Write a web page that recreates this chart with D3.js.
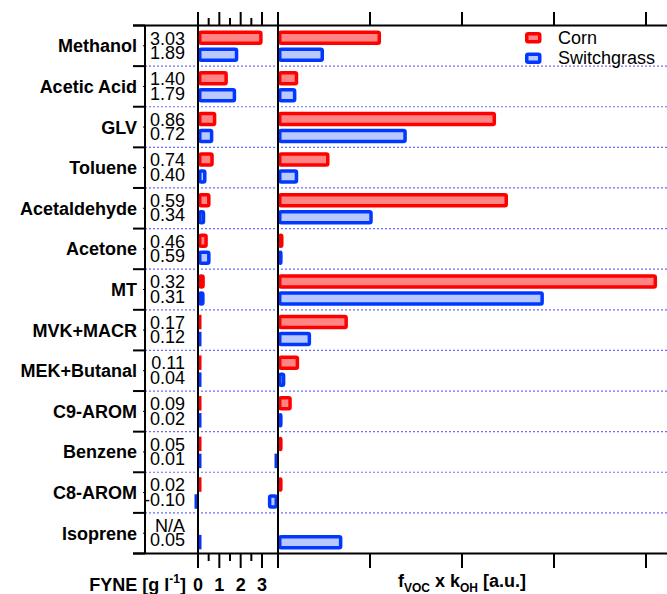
<!DOCTYPE html>
<html>
<head>
<meta charset="utf-8">
<script src="https://cdn.jsdelivr.net/npm/d3@7"></script>
<style>
  html, body { margin: 0; padding: 0; background: #fff; }
  svg { display: block; font-family: "Liberation Sans", Arial, sans-serif; }
</style>
</head>
<body>
<svg id="chart" width="667" height="594"></svg>
<script>
// VOC species, top to bottom
const categories = ["Methanol", "Acetic Acid", "GLV", "Toluene", "Acetaldehyde", "Acetone",
  "MT", "MVK+MACR", "MEK+Butanal", "C9-AROM", "Benzene", "C8-AROM", "Isoprene"];

// Fuel-yield normalised emissions [g l-1]
const fyneCorn   = [3.03, 1.40, 0.86, 0.74, 0.59, 0.46, 0.32, 0.17, 0.11, 0.09, 0.05, 0.02, null];
const fyneSwitch = [1.89, 1.79, 0.72, 0.40, 0.34, 0.59, 0.31, 0.12, 0.04, 0.02, 0.01, -0.10, 0.05];

// OH reactivity contribution, f_VOC x k_OH [a.u.]
const reactCorn   = [1.12, 0.22, 2.37, 0.56, 2.50, 0.06, 4.12, 0.76, 0.23, 0.15, 0.05, 0.05, null];
const reactSwitch = [0.50, 0.20, 1.40, 0.22, 1.03, 0.05, 2.89, 0.36, 0.08, 0.05, -0.03, -0.11, 0.70];

const fyneTicks = [0, 1, 2, 3];
const fyneMinorTicks = [0.5, 1.5, 2.5];
const reactTicks = [0, 1, 2, 3, 4];

const seriesNames = ["Corn", "Switchgrass"];
const strokeColors = ["#ff0000", "#0038ff"];
const fillColors = ["#ff8585", "#b9c8ff"];

const svg = d3.select("#chart");

const plotTop = 25.5, plotBottom = 553.5;
const y = d3.scaleBand().domain(categories).range([plotTop, plotBottom]);
const xF = d3.scaleLinear().domain([0, 3]).range([198, 262]);
const xR = d3.scaleLinear().domain([0, 4]).range([278, 646]);

const SW = 3.5;       // bar outline width
const barH = 14.5;
const barOffset = [5, 22];

// bar whose outer edge spans x(0)..x(v), outline drawn inside
function drawBar(g, x, v, yTop, i) {
  if (v === null || v === undefined) return;
  const a = x(0), b = x(v);
  let lo = Math.min(a, b), hi = Math.max(a, b);
  if (hi - lo < SW + 0.8) {
    if (v >= 0) hi = lo + SW; else lo = hi - SW;
    g.append("rect").attr("x", lo).attr("y", yTop).attr("width", hi - lo).attr("height", barH)
      .attr("fill", strokeColors[i]);
  } else {
    g.append("rect")
      .attr("x", lo + SW / 2).attr("y", yTop + SW / 2)
      .attr("width", hi - lo - SW).attr("height", barH - SW)
      .attr("rx", 1.5)
      .attr("fill", fillColors[i]).attr("stroke", strokeColors[i])
      .attr("stroke-width", SW).attr("stroke-linejoin", "round");
  }
}

// dotted separators between species
const seps = categories.slice(1).map(c => y(c));
svg.append("g").selectAll("line").data(seps).join("line")
  .attr("x1", 145).attr("x2", 667).attr("y1", d => d).attr("y2", d => d)
  .attr("stroke", "#6a6aff").attr("stroke-width", 1.2).attr("stroke-dasharray", "2,2");

// bars
const bars = svg.append("g");
categories.forEach((c, k) => {
  const yb = y(c);
  drawBar(bars, xF, fyneCorn[k], yb + barOffset[0], 0);
  drawBar(bars, xF, fyneSwitch[k], yb + barOffset[1], 1);
  drawBar(bars, xR, reactCorn[k], yb + barOffset[0], 0);
  drawBar(bars, xR, reactSwitch[k], yb + barOffset[1], 1);
});

// species labels
svg.append("g").selectAll("text").data(categories).join("text")
  .attr("x", 137).attr("y", d => y(d) + y.bandwidth() / 2 + 6.5)
  .attr("text-anchor", "end").attr("font-weight", "bold").attr("font-size", 18)
  .text(d => d);

// FYNE value labels
const fmt = v => (v === null ? "N/A" : v.toFixed(2));
const vals = svg.append("g").attr("font-size", 18).attr("text-anchor", "end");
categories.forEach((c, k) => {
  vals.append("text").attr("x", 185).attr("y", y(c) + 19).text(fmt(fyneCorn[k]));
  vals.append("text").attr("x", 185).attr("y", y(c) + 33.5).text(fmt(fyneSwitch[k]));
});

// frame and axes
const frame = svg.append("g").attr("stroke", "#000").attr("stroke-width", 2).attr("fill", "none");
frame.append("line").attr("x1", 133).attr("x2", 667).attr("y1", plotTop).attr("y2", plotTop);
frame.append("line").attr("x1", 133).attr("x2", 667).attr("y1", plotBottom).attr("y2", plotBottom);
frame.append("line").attr("x1", 145).attr("x2", 145).attr("y1", plotTop).attr("y2", plotBottom);
// left category ticks
frame.selectAll(".lt").data([plotTop, ...seps, plotBottom]).join("line")
  .attr("x1", 133).attr("x2", 145).attr("y1", d => d).attr("y2", d => d);
frame.selectAll(".mt").data(categories).join("line")
  .attr("x1", 143).attr("x2", 145)
  .attr("y1", d => y(d) + y.bandwidth() / 2).attr("y2", d => y(d) + y.bandwidth() / 2)
  .attr("stroke-width", 1);

// FYNE axis ticks (top and bottom)
fyneTicks.forEach(t => {
  frame.append("line").attr("x1", xF(t)).attr("x2", xF(t)).attr("y1", 12).attr("y2", plotTop);
  frame.append("line").attr("x1", xF(t)).attr("x2", xF(t)).attr("y1", plotBottom).attr("y2", 568);
});
fyneMinorTicks.forEach(t => {
  frame.append("line").attr("x1", xF(t)).attr("x2", xF(t)).attr("y1", 18).attr("y2", plotTop);
  frame.append("line").attr("x1", xF(t)).attr("x2", xF(t)).attr("y1", plotBottom).attr("y2", 561);
});
frame.append("line").attr("x1", xF(0)).attr("x2", xF(0)).attr("y1", 12).attr("y2", 568);

// reactivity axis ticks
reactTicks.forEach(t => {
  frame.append("line").attr("x1", xR(t)).attr("x2", xR(t)).attr("y1", 12).attr("y2", plotTop);
  frame.append("line").attr("x1", xR(t)).attr("x2", xR(t)).attr("y1", plotBottom).attr("y2", 568);
});
frame.append("line").attr("x1", xR(0)).attr("x2", xR(0)).attr("y1", 12).attr("y2", 568);

// FYNE tick labels
svg.append("g").selectAll("text").data(fyneTicks).join("text")
  .attr("x", d => xF(d)).attr("y", 591).attr("text-anchor", "middle")
  .attr("font-weight", "bold").attr("font-size", 18).text(d => d);

// axis titles
const t1 = svg.append("text").attr("x", 186).attr("y", 591).attr("text-anchor", "end")
  .attr("font-weight", "bold").attr("font-size", 18);
t1.append("tspan").text("FYNE [g l");
t1.append("tspan").attr("dy", -8).attr("font-size", 12).text("-1");
t1.append("tspan").attr("dy", 8).text("]");

const t2 = svg.append("text").attr("x", xR(2)).attr("y", 587).attr("text-anchor", "middle")
  .attr("font-weight", "bold").attr("font-size", 18);
t2.append("tspan").text("f");
t2.append("tspan").attr("dy", 5).attr("font-size", 12).text("VOC");
t2.append("tspan").attr("dy", -5).text(" x k");
t2.append("tspan").attr("dy", 5).attr("font-size", 12).text("OH");
t2.append("tspan").attr("dy", -5).text(" [a.u.]");

// legend
const legend = svg.append("g");
seriesNames.forEach((name, i) => {
  const ly = 32 + i * 20.5;
  legend.append("rect")
    .attr("x", 525 + SW / 2).attr("y", ly + SW / 2)
    .attr("width", 16.5 - SW).attr("height", 11.5 - SW).attr("rx", 1.5)
    .attr("fill", fillColors[i]).attr("stroke", strokeColors[i]).attr("stroke-width", SW)
    .attr("stroke-linejoin", "round");
  legend.append("text").attr("x", 558).attr("y", ly + 11.5).attr("font-size", 18).text(name);
});
</script>
</body>
</html>
